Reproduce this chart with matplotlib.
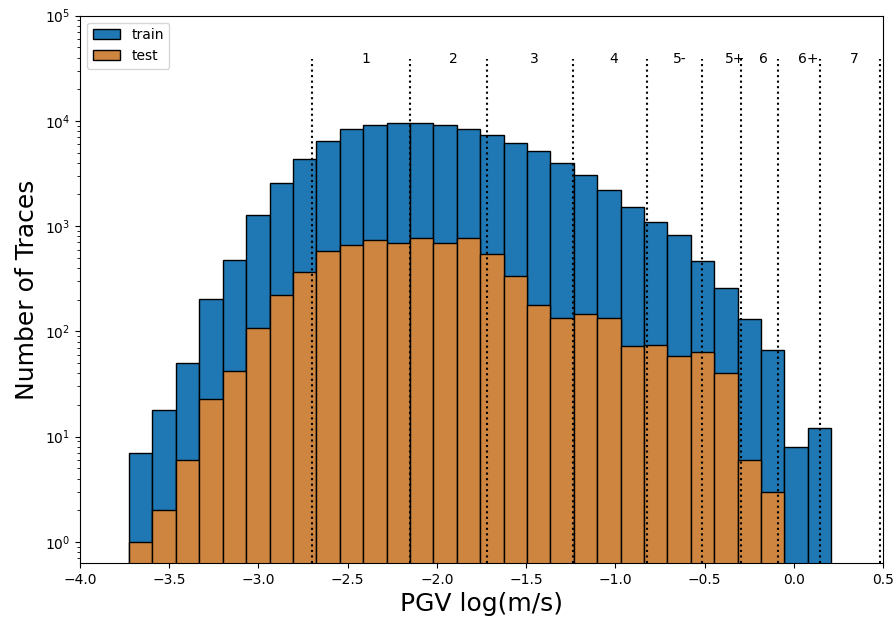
import numpy as np
import matplotlib.pyplot as plt

# bin edges of the PGV histogram, log10(m/s)
bin_lo, bin_hi, n_bins = -3.725, 0.21, 30

# counts per bin
train_counts = [7, 18, 50, 201, 476, 1265, 2570, 4370, 6440, 8300,
                9210, 9470, 9470, 9210, 8300, 7400, 6110, 5180, 4010, 3060,
                2200, 1520, 1094, 816, 462, 258, 131, 66, 8, 12]
test_counts = [1, 2, 6, 23, 42, 107, 223, 363, 575, 656,
               743, 695, 764, 695, 764, 543, 336, 178, 133, 145,
               133, 73, 75, 59, 64, 40, 6, 3, 0, 0]

# intensity class boundaries and labels
thresholds = [-2.70, -2.15, -1.72, -1.24, -0.82, -0.515, -0.295, -0.091, 0.148, 0.484]
class_labels = ['1', '2', '3', '4', '5-', '5+', '6', '6+', '7']
label_x = [-2.40, -1.91, -1.455, -1.01, -0.637, -0.328, -0.17, 0.079, 0.339]

edges = np.linspace(bin_lo, bin_hi, n_bins + 1)
widths = np.diff(edges)

fig = plt.figure(figsize=(8.96, 6.26), dpi=100)
ax = fig.add_axes([0.0893, 0.1006, 0.8962, 0.8744])

ax.bar(edges[:-1], train_counts, width=widths, align='edge',
       color='#1f77b4', edgecolor='black', linewidth=1, label='train')
ax.bar(edges[:-1], test_counts, width=widths, align='edge',
       color='#cd853f', edgecolor='black', linewidth=1, label='test')

for t in thresholds:
    ax.axvline(t, ymax=0.92, color='black', linestyle=':', linewidth=1.5)
for x, lab in zip(label_x, class_labels):
    ax.text(x, 0.92, lab, transform=ax.get_xaxis_transform(),
            ha='center', va='center', fontsize=10)

ax.set_yscale('log')
ax.set_ylim(0.63, 1e5)
ax.set_xlim(-4.0, 0.5)
ax.set_xticks(np.arange(-4.0, 0.51, 0.5))
ax.set_xlabel('PGV log(m/s)', fontsize=18)
ax.set_ylabel('Number of Traces', fontsize=18)
ax.legend(loc='upper left')

fig.savefig('out.png', dpi=100)
